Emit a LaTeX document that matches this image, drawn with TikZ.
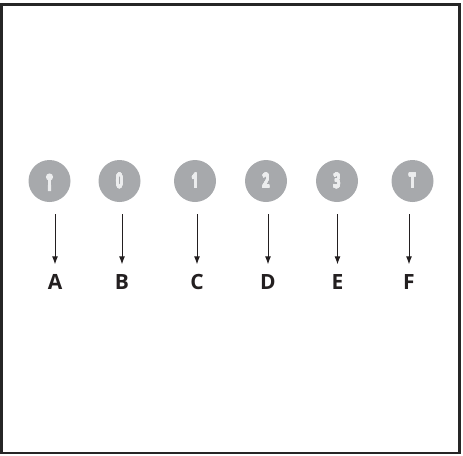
\documentclass[tikz,border=0pt]{standalone}
\usepackage{fontspec}
\setmainfont{Open Sans}
\usepackage{contour}
\contournumber{24}
\contourlength{0.45pt}
\usetikzlibrary{arrows.meta}
\definecolor{discgray}{HTML}{A7A9AC}
\definecolor{glyphgray}{HTML}{ECEDEE}
\definecolor{inkgray}{HTML}{231F20}
\newcommand{\narrowglyph}[1]{\scalebox{0.62}[1]{\contour{glyphgray}{#1}}}

\begin{document}
\begin{tikzpicture}[x=1pt, y=-1pt,
 disc/.style={circle, fill=discgray, minimum size=42pt, inner sep=0pt,
 text=glyphgray},
 digit/.style={font=\bfseries\fontsize{20}{20}\selectfont},
 letter/.style={font=\bfseries\fontsize{21}{21}\selectfont, text=inkgray,
 inner sep=0pt, text height=15pt, text depth=0pt},
 edge/.style={-{Latex[length=8pt,width=6pt]}, line width=.9pt, draw=inkgray,
 shorten <=12pt, shorten >=10pt}]
\useasboundingbox (0,0) rectangle (463,455);
\draw[line width=2.6pt, draw=black!85] (1.5,4.5) rectangle (459.5,453);
% discs
\node[disc] (k) at (49.5,181) {};
\node[disc, digit] (zero) at (119.5,181) {\narrowglyph{0}};
\node[disc, digit] (one) at (195,181) {\narrowglyph{1}};
\node[disc, digit] (two) at (266,181) {\narrowglyph{2}};
\node[disc, digit] (three) at (337,181) {\narrowglyph{3}};
\node[disc, digit] (tee) at (412.5,181) {\narrowglyph{T}};
% keyhole glyph
\fill[glyphgray] ([shift={(0,-4)}]k.center) circle[radius=3.6];
\fill[glyphgray] ([shift={(-1.3,-2)}]k.center) -- ([shift={(1.3,-2)}]k.center)
 -- ([shift={(1.7,10)}]k.center) -- ([shift={(-1.7,10)}]k.center) -- cycle;
% letters
\node[letter] (A) at (55,282) {A};
\node[letter] (B) at (122,282) {B};
\node[letter] (C) at (197,282) {C};
\node[letter] (D) at (268,282) {D};
\node[letter] (E) at (337.5,282) {E};
\node[letter] (F) at (409,282) {F};
% arrows
\draw[edge] (k.south -| A) -- (A.north);
\draw[edge] (zero.south -| B) -- (B.north);
\draw[edge] (one.south -| C) -- (C.north);
\draw[edge] (two.south -| D) -- (D.north);
\draw[edge] (three.south -| E) -- (E.north);
\draw[edge] (tee.south -| F) -- (F.north);
\end{tikzpicture}
\end{document}
